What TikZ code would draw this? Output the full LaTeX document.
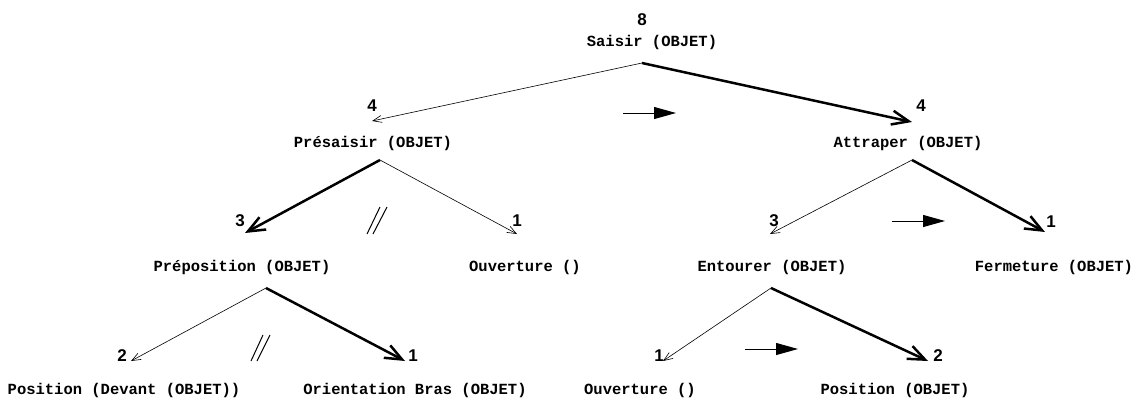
\documentclass[tikz,border=0pt]{standalone}
\usepackage{fontspec}
\newfontfamily\labfont{Liberation Mono}
\newfontfamily\numfont{Liberation Sans}
\usetikzlibrary{arrows.meta}
\begin{document}
\begin{tikzpicture}[x=1pt,y=-1pt,
  lab/.style={font=\labfont\bfseries\fontsize{15.5}{16}\selectfont, inner sep=0pt},
  num/.style={font=\numfont\bfseries\fontsize{17}{18}\selectfont, inner sep=0pt},
  thin/.style={line width=0.6pt, -{Straight Barb[length=9pt,width=7pt]}},
  thick/.style={line width=2.5pt, -{Straight Barb[length=17pt,width=14pt]}},
  order/.style={line width=1pt, -{Triangle[length=22pt,width=12pt]}},
  par/.style={line width=1pt}]
\useasboundingbox (0,0) rectangle (1136,399);
% labels
\node[lab] (saisir) at (652,42) {Saisir (OBJET)};
\node[lab] (presaisir) at (373,143) {Présaisir (OBJET)};
\node[lab] (attraper) at (908,143) {Attraper (OBJET)};
\node[lab] (preposition) at (242,267) {Préposition (OBJET)};
\node[lab] (ouv1) at (525,267) {Ouverture ()};
\node[lab] (entourer) at (772,267) {Entourer (OBJET)};
\node[lab] (fermeture) at (1054,267) {Fermeture (OBJET)};
\node[lab] (posdev) at (124,390) {Position (Devant (OBJET))};
\node[lab] (orient) at (415,390) {Orientation Bras (OBJET)};
\node[lab] (ouv2) at (640,390) {Ouverture ()};
\node[lab] (posobj) at (895,390) {Position (OBJET)};
% numbers
\node[num] (n8) at (642,20) {8};
\node[num] (n4a) at (372,106) {4};
\node[num] (n4b) at (921,106) {4};
\node[num] (n3a) at (240,221) {3};
\node[num] (n1a) at (517,221) {1};
\node[num] (n3b) at (774,221) {3};
\node[num] (n1b) at (1051,222) {1};
\node[num] (n2a) at (122,356) {2};
\node[num] (n1c) at (413,356) {1};
\node[num] (n1d) at (659,356) {1};
\node[num] (n2b) at (938,356) {2};
% apex points
\coordinate (aS) at (642,63);
\coordinate (aP) at (380,160);
\coordinate (aA) at (912,160);
\coordinate (aPr) at (266,288);
\coordinate (aE) at (771,288);
% tips
\coordinate (tP) at (372,121);
\coordinate (tA) at (912,122);
\coordinate (tPr) at (245,233);
\coordinate (tO1) at (517,234);
\coordinate (tE) at (770,234);
\coordinate (tF) at (1045,232);
\coordinate (tPD) at (131,361);
\coordinate (tOr) at (405,361);
\coordinate (tO2) at (663,361);
\coordinate (tPo) at (928,361);
\draw[thin] (aS) -- (tP);
\draw[thick] (aS) -- (tA);
\draw[thick] (aP) -- (tPr);
\draw[thin] (aP) -- (tO1);
\draw[thin] (aA) -- (tE);
\draw[thick] (aA) -- (tF);
\draw[thin] (aPr) -- (tPD);
\draw[thick] (aPr) -- (tOr);
\draw[thin] (aE) -- (tO2);
\draw[thick] (aE) -- (tPo);
% order arrows
\coordinate (o1s) at (623,113); \coordinate (o1e) at (676,113);
\coordinate (o2s) at (892,221); \coordinate (o2e) at (945,221);
\coordinate (o3s) at (745,349); \coordinate (o3e) at (798,349);
\draw[order] (o1s) -- (o1e);
\draw[order] (o2s) -- (o2e);
\draw[order] (o3s) -- (o3e);
% parallel marks
\coordinate (p1a) at (367,234); \coordinate (p1b) at (380,207);
\coordinate (p2a) at (373,234); \coordinate (p2b) at (387,207);
\draw[par] (p1a) -- (p1b);
\draw[par] (p2a) -- (p2b);
\coordinate (p3a) at (251,361); \coordinate (p3b) at (263,335);
\coordinate (p4a) at (257,361); \coordinate (p4b) at (270,335);
\draw[par] (p3a) -- (p3b);
\draw[par] (p4a) -- (p4b);
\end{tikzpicture}
\end{document}
